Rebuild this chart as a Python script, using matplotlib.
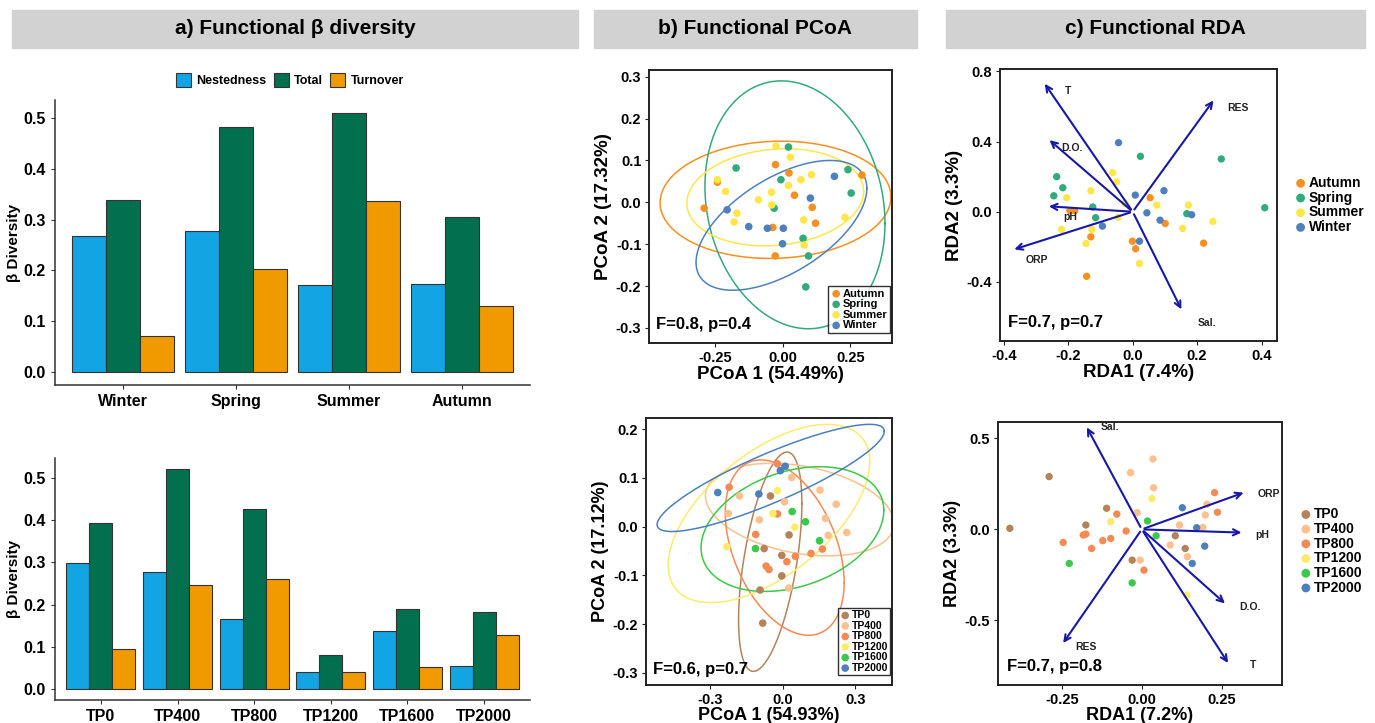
import numpy as np
import matplotlib.pyplot as plt
from matplotlib.patches import Rectangle, Patch

plt.rcParams['font.family'] = ['Liberation Sans', 'DejaVu Sans']
plt.rcParams['font.weight'] = 'bold'
plt.rcParams['axes.labelweight'] = 'bold'
plt.rcParams['axes.unicode_minus'] = False

# ---------------- data: beta diversity bars ----------------
seasons = ['Winter', 'Spring', 'Summer', 'Autumn']
season_nested = [0.267, 0.278, 0.172, 0.174]
season_total = [0.339, 0.482, 0.510, 0.305]
season_turnover = [0.071, 0.203, 0.337, 0.130]

sites = ['TP0', 'TP400', 'TP800', 'TP1200', 'TP1600', 'TP2000']
site_nested = [0.299, 0.276, 0.165, 0.041, 0.138, 0.054]
site_total = [0.393, 0.521, 0.427, 0.081, 0.189, 0.183]
site_turnover = [0.094, 0.247, 0.261, 0.040, 0.051, 0.128]

components = ['Nestedness', 'Total', 'Turnover']
comp_colors = ['#12A4E3', '#02704F', '#F09A00']

# ---------------- data: seasons (PCoA / RDA) ----------------
season_names = ['Autumn', 'Spring', 'Summer', 'Winter']
season_colors = ['#F7901E', '#32AB7C', '#FFE64A', '#4E80C0']

pcoa_s_autumn = [(-0.291, -0.014), (-0.242, 0.048), (-0.027, 0.090), (0.023, 0.070), (0.043, 0.017),
                 (0.109, -0.012), (0.121, -0.050), (-0.037, -0.060), (-0.028, -0.128), (0.293, 0.065)]
pcoa_s_spring = [(-0.173, 0.082), (0.021, 0.132), (-0.007, 0.054), (-0.032, -0.014), (0.241, 0.078),
                 (0.253, 0.022), (0.075, -0.086), (0.095, -0.128), (0.085, -0.202)]
pcoa_s_summer = [(-0.025, 0.134), (0.028, 0.108), (-0.242, 0.054), (-0.212, 0.026), (-0.170, -0.026),
                 (-0.180, -0.047), (-0.090, 0.006), (-0.042, 0.024), (-0.041, -0.006), (0.021, 0.040),
                 (0.067, 0.054), (0.106, 0.066), (0.077, -0.042), (0.079, -0.102), (0.230, -0.036)]
pcoa_s_winter = [(-0.206, -0.018), (-0.126, -0.058), (-0.057, -0.062), (0.002, -0.062), (-0.001, -0.099),
                 (0.102, 0.010), (0.191, 0.062)]
# ellipse: centre x, centre y, half range x, half range y, correlation
ell_s_autumn = (-0.027, 0.006, 0.427, 0.140, 0.05)
ell_s_spring = (0.045, -0.006, 0.333, 0.296, -0.15)
ell_s_summer = (-0.028, 0.012, 0.327, 0.116, 0.12)
ell_s_winter = (-0.005, -0.055, 0.316, 0.155, 0.57)

rda_s_autumn = [(0.054, 0.080), (0.101, -0.067), (-0.001, -0.168), (0.009, -0.211), (0.220, -0.179),
                (-0.130, -0.143), (-0.143, -0.368), (-0.195, 0.006), (-0.180, 0.006)]
rda_s_spring = [(-0.236, 0.200), (-0.217, 0.137), (-0.245, 0.091), (-0.124, 0.027), (-0.115, -0.034),
                (0.024, 0.316), (0.275, 0.301), (0.168, -0.011), (0.410, 0.023)]
rda_s_summer = [(-0.205, 0.080), (-0.130, 0.120), (-0.062, 0.223), (-0.050, 0.171), (-0.221, -0.101),
                (-0.145, -0.181), (-0.127, -0.101), (-0.045, -0.032), (-0.024, 0.048), (0.075, 0.038),
                (0.173, 0.038), (0.155, -0.095), (0.249, -0.055), (0.021, -0.295)]
rda_s_winter = [(-0.044, 0.394), (0.008, 0.095), (0.097, 0.120), (0.044, -0.006), (0.085, -0.048),
                (0.183, -0.017), (-0.094, -0.082), (0.021, -0.168)]

rda_s_vars = ['T', 'RES', 'D.O.', 'pH', 'ORP', 'Sal.']
rda_s_arrow_x = [-0.278, 0.256, -0.265, -0.269, -0.376, 0.155]
rda_s_arrow_y = [0.743, 0.648, 0.419, 0.032, -0.219, -0.571]
rda_s_label_x = [-0.202, 0.328, -0.190, -0.195, -0.298, 0.230]
rda_s_label_y = [0.686, 0.590, 0.362, -0.029, -0.276, -0.632]

# ---------------- data: sites (PCoA / RDA) ----------------
site_colors = ['#B5835A', '#FDC08E', '#F68A54', '#FFEB6B', '#3CC84A', '#4A80C0']

pcoa_t_tp0 = [(-0.051, 0.063), (0.026, -0.017), (-0.077, -0.045), (-0.004, -0.059), (-0.004, -0.101),
              (-0.094, -0.130), (-0.083, -0.198)]
pcoa_t_tp400 = [(0.037, 0.101), (-0.179, 0.063), (-0.225, 0.027), (-0.097, 0.014), (0.007, 0.051),
                (0.154, 0.075), (0.221, 0.046), (0.177, 0.017), (0.188, -0.018), (0.265, -0.012),
                (0.025, -0.126)]
pcoa_t_tp800 = [(-0.022, 0.129), (-0.222, 0.081), (-0.022, 0.026), (-0.112, -0.016), (0.052, -0.061),
                (0.017, -0.072), (-0.069, -0.081), (-0.057, -0.088), (0.117, -0.055), (0.164, -0.046)]
pcoa_t_tp1200 = [(-0.022, 0.074), (-0.041, 0.027), (0.050, -0.001), (-0.232, -0.041)]
pcoa_t_tp1600 = [(0.039, 0.031), (0.094, 0.010), (0.152, -0.029), (-0.113, -0.045)]
pcoa_t_tp2000 = [(0.010, 0.124), (-0.010, 0.115), (-0.269, 0.070), (-0.099, 0.067)]
ell_t_tp0 = (-0.052, -0.072, 0.131, 0.225, 0.53)
ell_t_tp400 = (0.07, 0.035, 0.39, 0.095, -0.3)
ell_t_tp800 = (0.008, -0.043, 0.246, 0.18, -0.4)
ell_t_tp1200 = (-0.057, 0.027, 0.417, 0.183, 0.58)
ell_t_tp1600 = (0.04, -0.005, 0.378, 0.128, 0.30)
ell_t_tp2000 = (-0.05, 0.10, 0.47, 0.11, 0.87)

rda_t_tp0 = [(-0.413, 0.006), (-0.290, 0.290), (-0.110, 0.116), (-0.175, 0.024), (-0.030, -0.169),
             (0.105, -0.035), (0.136, -0.105)]
rda_t_tp400 = [(0.035, 0.387), (-0.035, 0.312), (0.037, 0.229), (-0.014, 0.092), (0.118, 0.024),
               (0.089, -0.086), (-0.005, -0.169), (0.143, -0.150), (0.199, 0.079), (0.204, 0.138),
               (0.191, 0.011)]
rda_t_tp800 = [(-0.078, 0.084), (-0.049, -0.009), (-0.097, -0.050), (-0.122, -0.062), (-0.175, -0.026),
               (-0.183, -0.031), (-0.246, -0.072), (-0.157, -0.105), (0.007, -0.224), (0.228, 0.202),
               (0.237, 0.094)]
rda_t_tp1200 = [(0.032, 0.169), (-0.097, 0.042), (0.141, -0.361)]
rda_t_tp1600 = [(0.018, 0.046), (0.045, -0.035), (-0.227, -0.187), (-0.030, -0.294)]
rda_t_tp2000 = [(0.127, 0.119), (0.172, 0.009), (0.197, -0.092), (0.158, -0.187)]

rda_t_vars = ['Sal.', 'ORP', 'pH', 'D.O.', 'T', 'RES']
rda_t_arrow_x = [-0.176, 0.327, 0.321, 0.267, 0.275, -0.251]
rda_t_arrow_y = [0.574, 0.207, -0.018, -0.417, -0.747, -0.637]
rda_t_label_x = [-0.099, 0.397, 0.377, 0.340, 0.347, -0.176]
rda_t_label_y = [0.565, 0.194, -0.031, -0.429, -0.747, -0.646]

W, H = 1375, 723


def rect(x0, y0, x1, y1):
    return [x0 / W, 1 - y1 / H, (x1 - x0) / W, (y1 - y0) / H]


def bar_panel(ax, cats, vals, ylim):
    x = np.arange(len(cats))
    for i, v in enumerate(vals):
        ax.bar(x + (i - 1) * 0.3, v, width=0.3, color=comp_colors[i],
               edgecolor='#333333', linewidth=0.8)
    ax.set_xlim(-0.6, len(cats) - 0.4)
    ax.set_ylim(*ylim)
    ax.set_xticks(x)
    ax.set_xticklabels(cats, fontsize=11.5)
    ax.set_yticks([0, 0.1, 0.2, 0.3, 0.4, 0.5])
    ax.set_yticklabels(['0.0', '0.1', '0.2', '0.3', '0.4', '0.5'], fontsize=11.5)
    ax.set_ylabel('β Diversity', fontsize=11, labelpad=2)
    ax.spines['top'].set_visible(False)
    ax.spines['right'].set_visible(False)
    for s in ['left', 'bottom']:
        ax.spines[s].set_color('#333333')
        ax.spines[s].set_linewidth(1.1)
    ax.tick_params(length=3, width=0.8, colors='#333333', labelcolor='black')


def box_panel(ax, xt, xtl, yt, ytl, xlim, ylim, xlab, ylab, lab_size=13.5, xpad=1):
    ax.set_xlim(*xlim)
    ax.set_ylim(*ylim)
    ax.set_xticks(xt)
    ax.set_xticklabels(xtl, fontsize=10.5)
    ax.set_yticks(yt)
    ax.set_yticklabels(ytl, fontsize=10.5)
    ax.set_xlabel(xlab, fontsize=lab_size, labelpad=xpad)
    ax.set_ylabel(ylab, fontsize=lab_size, labelpad=3)
    for s in ax.spines.values():
        s.set_linewidth(1.4)
        s.set_color('#222222')
    ax.tick_params(length=3, width=0.8, pad=2.5, colors='#222222', labelcolor='black')


def draw_points(ax, groups, colors, size):
    handles = []
    for pts, c in zip(groups, colors):
        arr = np.array(pts)
        h = ax.scatter(arr[:, 0], arr[:, 1], s=size, color=c, edgecolors='none', zorder=3)
        handles.append(h)
    return handles


def draw_ellipse(ax, params, color):
    cx, cy, rx, ry, rho = params
    t = np.linspace(0, 2 * np.pi, 300)
    d = np.arccos(rho)
    ax.plot(cx + rx * np.cos(t), cy + ry * np.cos(t - d), color=color, lw=1.1, zorder=2)


def draw_arrows(ax, ax_x, ax_y, lx, ly, names):
    for x, y in zip(ax_x, ax_y):
        ax.annotate('', xy=(x, y), xytext=(0, 0),
                    arrowprops=dict(arrowstyle='->,head_length=0.45,head_width=0.22',
                                    color='#1818A8', lw=1.5), zorder=4)
    for x, y, n in zip(lx, ly, names):
        ax.text(x, y, n, fontsize=7.5, color='#222222', ha='center', va='center', zorder=5)


fig = plt.figure(figsize=(13.75, 7.23), dpi=100)

# header boxes
for x0, x1, title in [(12, 578, 'a) Functional β diversity'),
                      (594, 917, 'b) Functional PCoA'),
                      (946, 1365, 'c) Functional RDA')]:
    fig.patches.append(Rectangle((x0 / W, 1 - 48 / H), (x1 - x0) / W, 38 / H,
                                 transform=fig.transFigure, color='#D2D2D2', zorder=0))
    fig.text((x0 + x1) / 2 / W, 1 - 29 / H, title, ha='center', va='center', fontsize=15)

# ---- a) bars
ax1 = fig.add_axes(rect(55, 100, 530, 385))
bar_panel(ax1, seasons, [season_nested, season_total, season_turnover], (-0.026, 0.536))
ax2 = fig.add_axes(rect(55, 458, 530, 700))
bar_panel(ax2, sites, [site_nested, site_total, site_turnover], (-0.026, 0.547))

leg_handles = [Patch(facecolor=c, edgecolor='#333333', linewidth=0.8) for c in comp_colors]
fig.legend(leg_handles, components, loc='center', bbox_to_anchor=(290 / W, 1 - 80 / H), ncol=3,
           frameon=False, handlelength=1.2, handleheight=1.3, columnspacing=0.6,
           handletextpad=0.4, fontsize=9)

# ---- b) PCoA seasons
ax3 = fig.add_axes(rect(649, 70, 892, 343))
for e, c in zip([ell_s_autumn, ell_s_spring, ell_s_summer, ell_s_winter], season_colors):
    draw_ellipse(ax3, e, c)
h3 = draw_points(ax3, [pcoa_s_autumn, pcoa_s_spring, pcoa_s_summer, pcoa_s_winter], season_colors, 30)
box_panel(ax3, [-0.25, 0, 0.25], ['-0.25', '0.00', '0.25'],
          [-0.3, -0.2, -0.1, 0, 0.1, 0.2, 0.3], ['-0.3', '-0.2', '-0.1', '0.0', '0.1', '0.2', '0.3'],
          (-0.495, 0.404), (-0.336, 0.316), 'PCoA 1 (54.49%)', 'PCoA 2 (17.32%)')
ax3.text(0.03, 0.04, 'F=0.8, p=0.4', transform=ax3.transAxes, fontsize=12, va='bottom')
lg = ax3.legend(h3, season_names, loc='lower right', bbox_to_anchor=(1.0, 0.03), fontsize=8,
                frameon=True, fancybox=False, edgecolor='black', handletextpad=0.1, borderpad=0.2,
                labelspacing=0.05, handlelength=1.0, borderaxespad=0.2)
lg.get_frame().set_linewidth(1.0)

# ---- b) PCoA sites
ax4 = fig.add_axes(rect(646, 418, 892, 685))
for e, c in zip([ell_t_tp0, ell_t_tp400, ell_t_tp800, ell_t_tp1200, ell_t_tp1600, ell_t_tp2000],
                site_colors):
    draw_ellipse(ax4, e, c)
h4 = draw_points(ax4, [pcoa_t_tp0, pcoa_t_tp400, pcoa_t_tp800, pcoa_t_tp1200, pcoa_t_tp1600,
                       pcoa_t_tp2000], site_colors, 30)
box_panel(ax4, [-0.3, 0, 0.3], ['-0.3', '0.0', '0.3'],
          [-0.3, -0.2, -0.1, 0, 0.1, 0.2], ['-0.3', '-0.2', '-0.1', '0.0', '0.1', '0.2'],
          (-0.566, 0.452), (-0.325, 0.223), 'PCoA 1 (54.93%)', 'PCoA 2 (17.12%)',
          lab_size=13, xpad=0)
ax4.text(0.03, 0.03, 'F=0.6, p=0.7', transform=ax4.transAxes, fontsize=12, va='bottom')
lg = ax4.legend(h4, sites, loc='lower right', bbox_to_anchor=(1.0, 0.03), fontsize=7.5,
                frameon=True, fancybox=False, edgecolor='black', handletextpad=0.1, borderpad=0.2,
                labelspacing=0.05, handlelength=1.0, borderaxespad=0.2)
lg.get_frame().set_linewidth(1.0)

# ---- c) RDA seasons
ax5 = fig.add_axes(rect(1000, 69, 1277, 341))
h5 = draw_points(ax5, [rda_s_autumn, rda_s_spring, rda_s_summer, rda_s_winter], season_colors, 28)
draw_arrows(ax5, rda_s_arrow_x, rda_s_arrow_y, rda_s_label_x, rda_s_label_y, rda_s_vars)
box_panel(ax5, [-0.4, -0.2, 0, 0.2, 0.4], ['-0.4', '-0.2', '0.0', '0.2', '0.4'],
          [-0.4, 0, 0.4, 0.8], ['-0.4', '0.0', '0.4', '0.8'],
          (-0.412, 0.448), (-0.737, 0.814), 'RDA1 (7.4%)', 'RDA2 (3.3%)')
ax5.text(0.03, 0.04, 'F=0.7, p=0.7', transform=ax5.transAxes, fontsize=12, va='bottom')
ax5.legend(h5, season_names, loc='center left', bbox_to_anchor=(1.04, 0.5), fontsize=10,
           frameon=False, handletextpad=0.1, labelspacing=0.05, handlelength=1.0, borderaxespad=0,
           markerscale=1.2)

# ---- c) RDA sites
ax6 = fig.add_axes(rect(998, 422, 1282, 685))
h6 = draw_points(ax6, [rda_t_tp0, rda_t_tp400, rda_t_tp800, rda_t_tp1200, rda_t_tp1600, rda_t_tp2000],
                 site_colors, 28)
draw_arrows(ax6, rda_t_arrow_x, rda_t_arrow_y, rda_t_label_x, rda_t_label_y, rda_t_vars)
box_panel(ax6, [-0.25, 0, 0.25], ['-0.25', '0.00', '0.25'],
          [-0.5, 0, 0.5], ['-0.5', '0.0', '0.5'],
          (-0.45, 0.439), (-0.855, 0.59), 'RDA1 (7.2%)', 'RDA2 (3.3%)', lab_size=13, xpad=0)
ax6.text(0.03, 0.04, 'F=0.7, p=0.8', transform=ax6.transAxes, fontsize=12, va='bottom')
ax6.legend(h6, sites, loc='center left', bbox_to_anchor=(1.04, 0.51), fontsize=10,
           frameon=False, handletextpad=0.1, labelspacing=0.05, handlelength=1.0, borderaxespad=0,
           markerscale=1.2)

fig.savefig('out.png', dpi=100)
